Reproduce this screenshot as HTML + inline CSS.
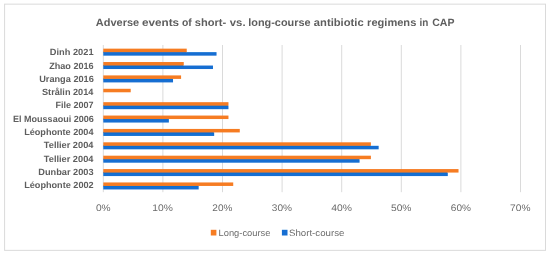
<!DOCTYPE html>
<html><head><meta charset="utf-8"><title>Adverse events chart</title>
<style>html,body{margin:0;padding:0;background:#fff;overflow:hidden;}svg{display:block;will-change:transform;}text{font-family:"Liberation Sans",sans-serif;text-rendering:geometricPrecision;}</style></head><body>
<svg width="550" height="254" viewBox="0 0 550 254">
<defs><filter id="soft" x="0" y="0" width="550" height="254" filterUnits="userSpaceOnUse"><feGaussianBlur stdDeviation="0.35"/></filter></defs>
<rect x="0" y="0" width="550" height="254" fill="#ffffff"/>
<rect x="4.6" y="4.15" width="540.9" height="246.2" fill="none" stroke="#DADADA" stroke-width="1"/>
<g filter="url(#soft)">
<line x1="103.30" y1="45.00" x2="103.30" y2="192.18" stroke="#DADADA" stroke-width="1"/>
<line x1="162.90" y1="45.00" x2="162.90" y2="192.18" stroke="#DADADA" stroke-width="1"/>
<line x1="222.50" y1="45.00" x2="222.50" y2="192.18" stroke="#DADADA" stroke-width="1"/>
<line x1="282.10" y1="45.00" x2="282.10" y2="192.18" stroke="#DADADA" stroke-width="1"/>
<line x1="341.70" y1="45.00" x2="341.70" y2="192.18" stroke="#DADADA" stroke-width="1"/>
<line x1="401.30" y1="45.00" x2="401.30" y2="192.18" stroke="#DADADA" stroke-width="1"/>
<line x1="460.90" y1="45.00" x2="460.90" y2="192.18" stroke="#DADADA" stroke-width="1"/>
<line x1="520.50" y1="45.00" x2="520.50" y2="192.18" stroke="#DADADA" stroke-width="1"/>
<rect x="103.30" y="52.15" width="113.24" height="3.5" fill="#126ED2"/>
<rect x="103.30" y="51.55" width="82.94" height="1.2" fill="#126ED2"/>
<rect x="103.30" y="48.65" width="83.44" height="3.5" fill="#F67C23"/>
<rect x="103.30" y="65.53" width="109.66" height="3.5" fill="#126ED2"/>
<rect x="103.30" y="64.93" width="79.96" height="1.2" fill="#126ED2"/>
<rect x="103.30" y="62.03" width="80.46" height="3.5" fill="#F67C23"/>
<rect x="103.30" y="78.91" width="69.73" height="3.5" fill="#126ED2"/>
<rect x="103.30" y="78.31" width="69.23" height="1.2" fill="#126ED2"/>
<rect x="103.30" y="75.41" width="77.78" height="3.5" fill="#F67C23"/>
<rect x="103.30" y="88.79" width="27.42" height="3.5" fill="#F67C23"/>
<rect x="103.30" y="105.67" width="125.16" height="3.5" fill="#126ED2"/>
<rect x="103.30" y="105.07" width="124.66" height="1.2" fill="#126ED2"/>
<rect x="103.30" y="102.17" width="125.16" height="3.5" fill="#F67C23"/>
<rect x="103.30" y="119.05" width="65.56" height="3.5" fill="#126ED2"/>
<rect x="103.30" y="118.45" width="65.06" height="1.2" fill="#126ED2"/>
<rect x="103.30" y="115.55" width="125.16" height="3.5" fill="#F67C23"/>
<rect x="103.30" y="132.43" width="110.86" height="3.5" fill="#126ED2"/>
<rect x="103.30" y="131.83" width="110.36" height="1.2" fill="#126ED2"/>
<rect x="103.30" y="128.93" width="136.48" height="3.5" fill="#F67C23"/>
<rect x="103.30" y="145.81" width="275.35" height="3.5" fill="#126ED2"/>
<rect x="103.30" y="145.21" width="267.10" height="1.2" fill="#126ED2"/>
<rect x="103.30" y="142.31" width="267.60" height="3.5" fill="#F67C23"/>
<rect x="103.30" y="159.19" width="256.28" height="3.5" fill="#126ED2"/>
<rect x="103.30" y="158.59" width="255.78" height="1.2" fill="#126ED2"/>
<rect x="103.30" y="155.69" width="267.60" height="3.5" fill="#F67C23"/>
<rect x="103.30" y="172.57" width="344.49" height="3.5" fill="#126ED2"/>
<rect x="103.30" y="171.97" width="343.99" height="1.2" fill="#126ED2"/>
<rect x="103.30" y="169.07" width="355.22" height="3.5" fill="#F67C23"/>
<rect x="103.30" y="185.95" width="95.36" height="3.5" fill="#126ED2"/>
<rect x="103.30" y="185.35" width="94.86" height="1.2" fill="#126ED2"/>
<rect x="103.30" y="182.45" width="129.93" height="3.5" fill="#F67C23"/>
<text x="49.86" y="55.20" textLength="43.69" lengthAdjust="spacingAndGlyphs" font-size="9" font-weight="bold" fill="#5E5E5E">Dinh 2021</text>
<text x="49.20" y="68.50" textLength="44.42" lengthAdjust="spacingAndGlyphs" font-size="9" font-weight="bold" fill="#5E5E5E">Zhao 2016</text>
<text x="39.21" y="81.80" textLength="54.61" lengthAdjust="spacingAndGlyphs" font-size="9" font-weight="bold" fill="#5E5E5E">Uranga 2016</text>
<text x="41.98" y="95.10" textLength="51.43" lengthAdjust="spacingAndGlyphs" font-size="9" font-weight="bold" fill="#5E5E5E">Strålin 2014</text>
<text x="55.51" y="108.40" textLength="38.10" lengthAdjust="spacingAndGlyphs" font-size="9" font-weight="bold" fill="#5E5E5E">File 2007</text>
<text x="13.05" y="121.70" textLength="80.71" lengthAdjust="spacingAndGlyphs" font-size="9" font-weight="bold" fill="#5E5E5E">El Moussaoui 2006</text>
<text x="24.17" y="135.00" textLength="69.31" lengthAdjust="spacingAndGlyphs" font-size="9" font-weight="bold" fill="#5E5E5E">Léophonte 2004</text>
<text x="43.83" y="148.30" textLength="49.57" lengthAdjust="spacingAndGlyphs" font-size="9" font-weight="bold" fill="#5E5E5E">Tellier 2004</text>
<text x="43.83" y="161.60" textLength="49.57" lengthAdjust="spacingAndGlyphs" font-size="9" font-weight="bold" fill="#5E5E5E">Tellier 2004</text>
<text x="38.30" y="174.90" textLength="55.29" lengthAdjust="spacingAndGlyphs" font-size="9" font-weight="bold" fill="#5E5E5E">Dunbar 2003</text>
<text x="24.15" y="188.20" textLength="69.55" lengthAdjust="spacingAndGlyphs" font-size="9" font-weight="bold" fill="#5E5E5E">Léophonte 2002</text>
<text x="95.92" y="210.9" textLength="14.73" lengthAdjust="spacingAndGlyphs" font-size="9.5" fill="#6A6A6A">0%</text>
<text x="152.36" y="210.9" textLength="20.55" lengthAdjust="spacingAndGlyphs" font-size="9.5" fill="#6A6A6A">10%</text>
<text x="212.35" y="210.9" textLength="20.05" lengthAdjust="spacingAndGlyphs" font-size="9.5" fill="#6A6A6A">20%</text>
<text x="271.89" y="210.9" textLength="20.22" lengthAdjust="spacingAndGlyphs" font-size="9.5" fill="#6A6A6A">30%</text>
<text x="331.39" y="210.9" textLength="20.68" lengthAdjust="spacingAndGlyphs" font-size="9.5" fill="#6A6A6A">40%</text>
<text x="390.97" y="210.9" textLength="20.49" lengthAdjust="spacingAndGlyphs" font-size="9.5" fill="#6A6A6A">50%</text>
<text x="450.84" y="210.9" textLength="20.14" lengthAdjust="spacingAndGlyphs" font-size="9.5" fill="#6A6A6A">60%</text>
<text x="510.08" y="210.9" textLength="20.35" lengthAdjust="spacingAndGlyphs" font-size="9.5" fill="#6A6A6A">70%</text>
<text x="95.89" y="25.6" textLength="43.25" lengthAdjust="spacingAndGlyphs" font-size="10.6" font-weight="bold" fill="#5E5E5E">Adverse</text>
<text x="142.04" y="25.6" textLength="37.11" lengthAdjust="spacingAndGlyphs" font-size="10.6" font-weight="bold" fill="#5E5E5E">events</text>
<text x="182.06" y="25.6" textLength="9.77" lengthAdjust="spacingAndGlyphs" font-size="10.6" font-weight="bold" fill="#5E5E5E">of</text>
<text x="194.77" y="25.6" textLength="31.41" lengthAdjust="spacingAndGlyphs" font-size="10.6" font-weight="bold" fill="#5E5E5E">short-</text>
<text x="229.84" y="25.6" textLength="15.74" lengthAdjust="spacingAndGlyphs" font-size="10.6" font-weight="bold" fill="#5E5E5E">vs.</text>
<text x="248.30" y="25.6" textLength="62.23" lengthAdjust="spacingAndGlyphs" font-size="10.6" font-weight="bold" fill="#5E5E5E">long-course</text>
<text x="313.89" y="25.6" textLength="49.75" lengthAdjust="spacingAndGlyphs" font-size="10.6" font-weight="bold" fill="#5E5E5E">antibiotic</text>
<text x="367.09" y="25.6" textLength="49.22" lengthAdjust="spacingAndGlyphs" font-size="10.6" font-weight="bold" fill="#5E5E5E">regimens</text>
<text x="419.62" y="25.6" textLength="8.85" lengthAdjust="spacingAndGlyphs" font-size="10.6" font-weight="bold" fill="#5E5E5E">in</text>
<text x="432.23" y="25.6" textLength="22.26" lengthAdjust="spacingAndGlyphs" font-size="10.6" font-weight="bold" fill="#5E5E5E">CAP</text>
<rect x="210.8" y="229.8" width="5.6" height="5.7" fill="#F67C23"/>
<text x="218.55" y="235.7" textLength="51.82" lengthAdjust="spacingAndGlyphs" font-size="9.2" fill="#6A6A6A">Long-course</text>
<rect x="281.9" y="229.8" width="5.6" height="5.7" fill="#126ED2"/>
<text x="288.98" y="235.7" textLength="55.41" lengthAdjust="spacingAndGlyphs" font-size="9.2" fill="#6A6A6A">Short-course</text>
</g>
</svg></body></html>
